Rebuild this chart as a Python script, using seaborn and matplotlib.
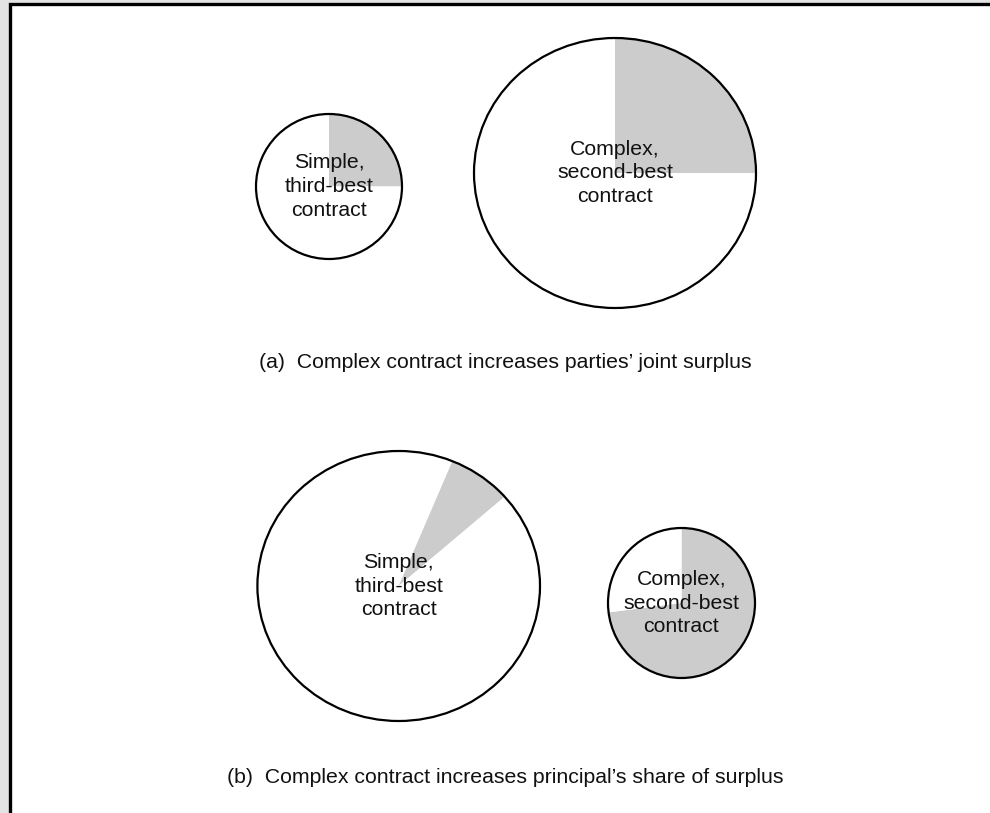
import matplotlib
matplotlib.use("Agg")
import matplotlib.pyplot as plt
from matplotlib.patches import Circle, Rectangle
import seaborn as sns

sns.set_theme(style="white")
plt.rcParams['font.family'] = ['Liberation Sans', 'DejaVu Sans']

# ---- data ----
shade = "#cccccc"
a_simple_values = [25, 75]
a_simple_colors = [shade, "white"]
a_complex_values = [25, 75]
a_complex_colors = [shade, "white"]
b_simple_values = [6.2, 7.3, 86.5]
b_simple_colors = ["white", shade, "white"]
b_complex_values = [73, 27]
b_complex_colors = [shade, "white"]

label_simple = "Simple,\nthird-best\ncontract"
label_complex = "Complex,\nsecond-best\ncontract"
caption_a = "(a)  Complex contract increases parties\u2019 joint surplus"
caption_b = "(b)  Complex contract increases principal\u2019s share of surplus"

W, H = 990, 813
fig = plt.figure(figsize=(W / 100, H / 100), dpi=100)
fig.patch.set_facecolor("#e4e4e4")

# white panel with frame (left and top edges visible)
panel = Rectangle((10 / W, -0.05), 1.1, 1 - 4.5 / H + 0.05, transform=fig.transFigure,
                  facecolor="white", edgecolor="black", linewidth=2.4, zorder=-10)
fig.patches.append(panel)


def draw_pie(cx, cy, rx, ry, values, colors, label):
    ax = fig.add_axes([(cx - rx) / W, 1 - (cy + ry) / H, 2 * rx / W, 2 * ry / H])
    ax.patch.set_alpha(0)
    ax.pie(values, colors=colors, startangle=90, counterclock=False, radius=1,
           wedgeprops=dict(linewidth=0, edgecolor="none", antialiased=True))
    ax.add_patch(Circle((0, 0), 1, facecolor="none", edgecolor="black", linewidth=1.6,
                        zorder=5, clip_on=False))
    ax.set_aspect("auto")
    ax.set_xlim(-1, 1)
    ax.set_ylim(-1, 1)
    ax.axis("off")
    ax.text(0, 0, label, ha="center", va="center", multialignment="center",
            fontsize=15.3, linespacing=1.32, color="#111111", zorder=6)
    return ax


draw_pie(329, 186.5, 73, 72.5, a_simple_values, a_simple_colors, label_simple)
draw_pie(615, 173, 141, 135, a_complex_values, a_complex_colors, label_complex)
draw_pie(398.7, 586, 141.3, 135, b_simple_values, b_simple_colors, label_simple)
draw_pie(681.5, 603, 73.5, 75, b_complex_values, b_complex_colors, label_complex)

fig.text(505.5 / W, 1 - 363 / H, caption_a, ha="center", va="center", fontsize=15.3, color="#111111")
fig.text(505 / W, 1 - 777 / H, caption_b, ha="center", va="center", fontsize=15.3, color="#111111")

fig.savefig("out.png", dpi=100, facecolor=fig.get_facecolor())
